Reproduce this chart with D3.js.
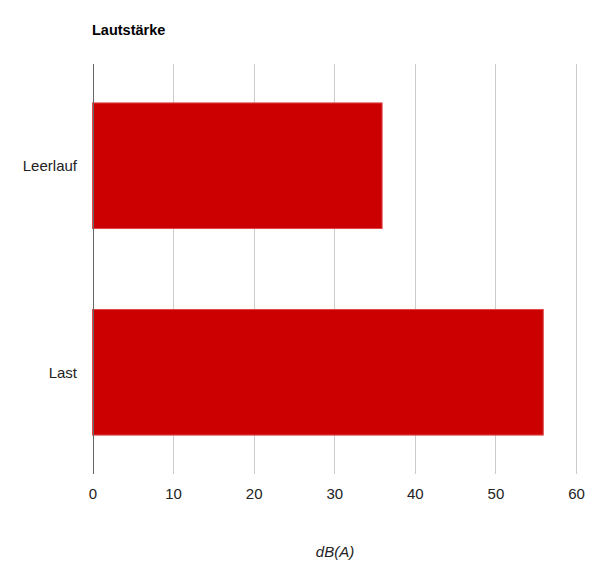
<!DOCTYPE html>
<html lang="de">
<head>
<meta charset="utf-8">
<title>Lautstärke</title>
<script src="https://cdn.jsdelivr.net/npm/d3@7"></script>
<style>
  body { margin: 0; background: #fff; }
  text { font-family: Arial, "Liberation Sans", sans-serif; }
</style>
</head>
<body>
<script>
var width = 600;
var height = 574;

var categories = ["Leerlauf", "Last"];
var values = [36, 56];
var xTicks = [0, 10, 20, 30, 40, 50, 60];

var margin = { top: 64, right: 24, bottom: 100, left: 92.5 };

var svg = d3.select("body").append("svg")
            .attr("width", width)
            .attr("height", height);

var x = d3.scaleLinear()
          .domain([0, 60])
          .range([margin.left, 576]);

var y = d3.scaleBand()
          .domain(categories)
          .range([margin.top, 474])
          .paddingInner(0.387)
          .paddingOuter(0.186);

// gridlines
svg.append("g")
   .selectAll("line")
   .data(xTicks.slice(1))
   .enter()
   .append("line")
   .attr("x1", function(d) { return Math.round(x(d)) + 0.5; })
   .attr("x2", function(d) { return Math.round(x(d)) + 0.5; })
   .attr("y1", margin.top)
   .attr("y2", 474)
   .attr("stroke", "#cccccc")
   .attr("stroke-width", 1);

// bars
svg.append("g")
   .selectAll("rect")
   .data(values)
   .enter()
   .append("rect")
   .attr("x", x(0))
   .attr("y", function(d, i) { return y(categories[i]) + 0.5; })
   .attr("width", function(d) { return x(d) - x(0) - 0.5; })
   .attr("height", y.bandwidth() - 1)
   .attr("fill", "#cc0000")
   .attr("stroke", "#e04848")
   .attr("stroke-width", 1);

// baseline
svg.append("line")
   .attr("x1", Math.round(x(0)) + 0.5)
   .attr("x2", Math.round(x(0)) + 0.5)
   .attr("y1", margin.top)
   .attr("y2", 474)
   .attr("stroke", "#666666")
   .attr("stroke-width", 1);

// x tick labels
var xAxis = d3.axisBottom(x).tickValues(xTicks).tickSize(0).tickPadding(0);
var gx = svg.append("g")
            .attr("transform", "translate(0,499)")
            .call(xAxis);
gx.select(".domain").remove();
gx.selectAll("text")
  .attr("dy", 0)
  .attr("font-size", 15)
  .attr("font-family", "Arial, 'Liberation Sans', sans-serif")
  .attr("fill", "#222222");

// y labels
var yAxis = d3.axisLeft(y).tickSize(0).tickPadding(0);
var gy = svg.append("g")
            .attr("transform", "translate(77,0)")
            .call(yAxis);
gy.select(".domain").remove();
gy.selectAll("text")
  .attr("dy", "0.35em")
  .attr("font-size", 15)
  .attr("font-family", "Arial, 'Liberation Sans', sans-serif")
  .attr("fill", "#222222");

// title
svg.append("text")
   .attr("x", 92)
   .attr("y", 35)
   .attr("font-size", 14.5)
   .attr("font-weight", "bold")
   .attr("fill", "#000000")
   .text("Lautstärke");

// axis title
svg.append("text")
   .attr("x", 335)
   .attr("y", 557)
   .attr("text-anchor", "middle")
   .attr("font-size", 15)
   .attr("font-style", "italic")
   .attr("fill", "#222222")
   .text("dB(A)");
</script>
</body>
</html>
